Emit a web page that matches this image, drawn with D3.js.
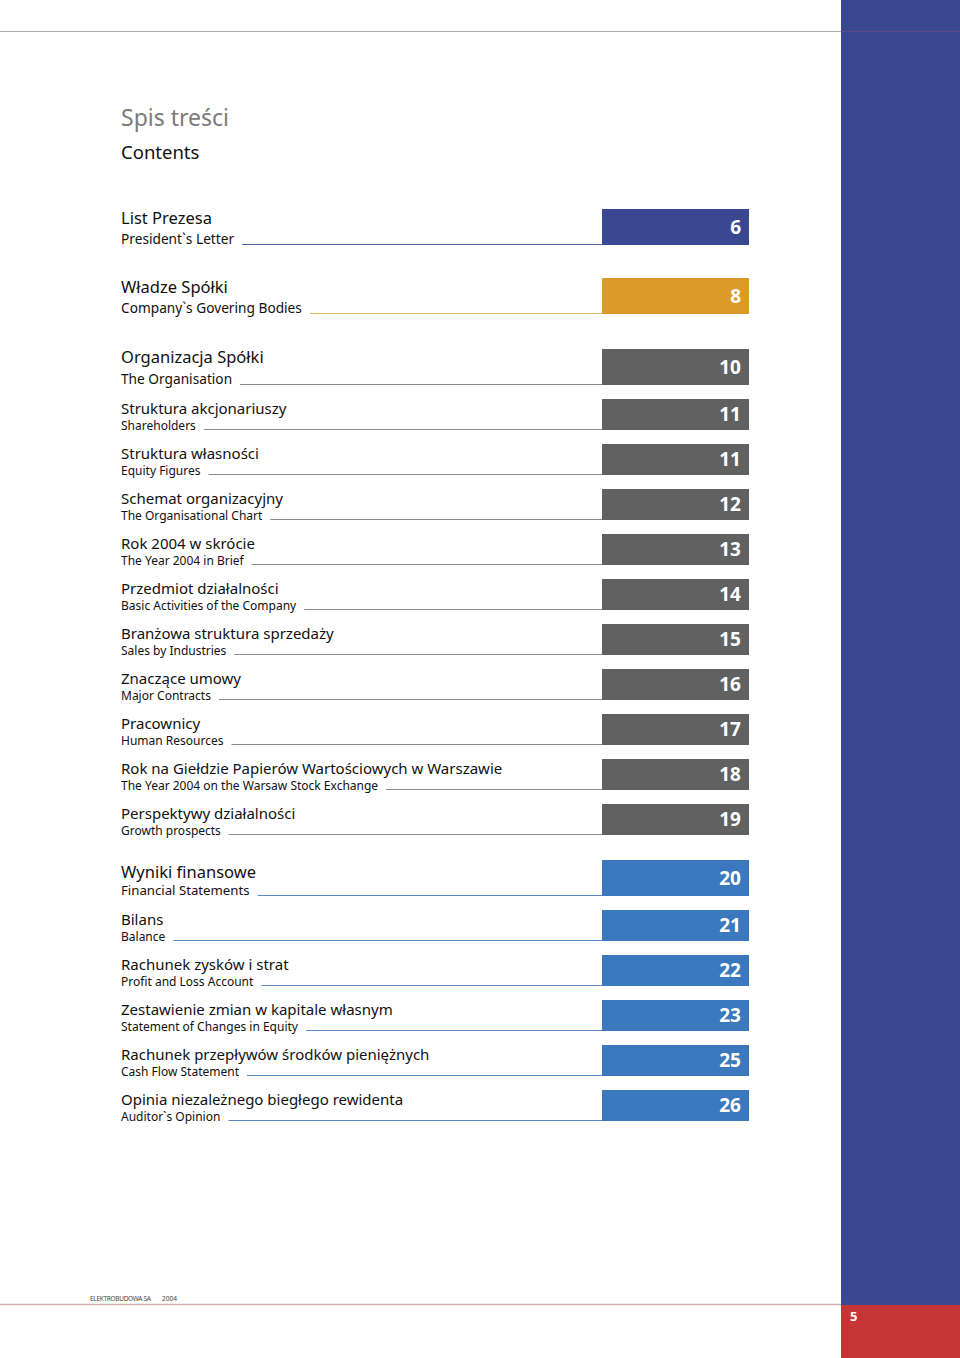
<!DOCTYPE html>
<html><head><meta charset="utf-8">
<script src="https://cdn.jsdelivr.net/npm/d3@7"></script>
<style>body{margin:0;background:#fff}svg{display:block}</style>
</head><body>
<svg id="c" width="960" height="1358"></svg>
<script>
const titlesPL = ["List Prezesa","Władze Spółki","Organizacja Spółki","Struktura akcjonariuszy","Struktura własności","Schemat organizacyjny","Rok 2004 w skrócie","Przedmiot działalności","Branżowa struktura sprzedaży","Znaczące umowy","Pracownicy","Rok na Giełdzie Papierów Wartościowych w Warszawie","Perspektywy działalności","Wyniki finansowe","Bilans","Rachunek zysków i strat","Zestawienie zmian w kapitale własnym","Rachunek przepływów środków pieniężnych","Opinia niezależnego biegłego rewidenta"];
const titlesEN = ["President`s Letter","Company`s Govering Bodies","The Organisation","Shareholders","Equity Figures","The Organisational Chart","The Year 2004 in Brief","Basic Activities of the Company","Sales by Industries","Major Contracts","Human Resources","The Year 2004 on the Warsaw Stock Exchange","Growth prospects","Financial Statements","Balance","Profit and Loss Account","Statement of Changes in Equity","Cash Flow Statement","Auditor`s Opinion"];
const pages = [6,8,10,11,11,12,13,14,15,16,17,18,19,20,21,22,23,25,26];
const groups = [0,1,2,2,2,2,2,2,2,2,2,2,2,3,3,3,3,3,3];
const heading = ["Spis treści","Contents"];
const footer = ["ELEKTROBUDOWA SA","2004"];
const pageNo = "5";

const barColors = ["#3a4892","#dc9a28","#616161","#3b78bd"];
const lineColors = ["#5566a4","#e2b466","#8c8c8c","#5b8bc6"];

const svg = d3.select("#c");
const FONT = "'Noto Sans', sans-serif";

// right band
svg.append("rect").attr("x",841).attr("y",0).attr("width",119).attr("height",1305).attr("fill","#394890");
svg.append("rect").attr("x",841).attr("y",1305).attr("width",119).attr("height",53).attr("fill","#c53536");
svg.append("line").attr("x1",0).attr("x2",841).attr("y1",31.5).attr("y2",31.5).attr("stroke","#b3adad").attr("stroke-width",1);
svg.append("line").attr("x1",841).attr("x2",960).attr("y1",31.5).attr("y2",31.5).attr("stroke","#7a4a7a").attr("stroke-width",1).attr("opacity",0.6);
svg.append("line").attr("x1",0).attr("x2",841).attr("y1",1304.5).attr("y2",1304.5).attr("stroke","#d5b3b3").attr("stroke-width",1.5);
svg.append("text").attr("x",850).attr("y",1321).attr("fill","#fff").attr("font-family",FONT).attr("font-weight","bold").attr("font-size",13).text(pageNo);

// footer
svg.append("text").attr("x",90).attr("y",1301).attr("fill","#444").attr("font-family",FONT).attr("font-size",6.5).attr("letter-spacing",-0.3).text(footer[0]);
svg.append("text").attr("x",162).attr("y",1301).attr("fill","#444").attr("font-family",FONT).attr("font-size",6.5).text(footer[1]);

// heading
svg.append("text").attr("x",121).attr("y",126).attr("fill","#7b7b7b").attr("font-family",FONT).attr("font-size",23).text(heading[0]);
svg.append("text").attr("x",121).attr("y",159).attr("fill","#111").attr("font-family",FONT).attr("font-size",18.5).text(heading[1]);

// layout
const groupGap = [0,24,26,16];
const rows = [];
let bottom = 245;
pages.forEach((p,i)=>{
  if(i>0){ bottom += 45; if(groups[i]!==groups[i-1]) bottom += groupGap[groups[i]]; }
  const lead = i===0 || groups[i]!==groups[i-1];
  rows.push({pl:titlesPL[i], en:titlesEN[i], page:p, g:groups[i], bottom, lead});
});

const x = d3.scaleLinear().domain([0,1]).range([602,749]);

const g = svg.selectAll("g.row").data(rows).join("g").attr("class","row");
g.append("rect")
  .attr("x",x(0)).attr("width",x(1)-x(0))
  .attr("y",d=>d.bottom-(d.lead?36:31)).attr("height",d=>d.lead?36:31)
  .attr("fill",d=>barColors[d.g]);
g.append("text")
  .attr("x",741).attr("y",d=>d.bottom-(d.lead?18:15.5)+6.5)
  .attr("text-anchor","end").attr("fill","#fff")
  .attr("font-family",FONT).attr("font-weight","bold").attr("font-size",19)
  .text(d=>d.page);
g.append("text").attr("class","pl")
  .attr("x",121).attr("y",d=>d.bottom-(d.lead? (d.g<2?21:(d.g===2?22:18)) :16))
  .attr("fill","#111").attr("font-family",FONT).attr("font-size",d=>d.lead?16.5:15)
  .text(d=>d.pl);
const en = g.append("text").attr("class","en")
  .attr("x",121).attr("y",d=>d.bottom-(d.lead?1:0.5))
  .attr("fill","#111").attr("font-family",FONT).attr("font-size",d=>d.lead?(d.g===3?13.2:13.7):12)
  .text(d=>d.en);
en.each(function(d){ d.enEnd = 121 + this.getComputedTextLength(); });
g.append("line")
  .attr("x1",d=>d.enEnd+8).attr("x2",x(0))
  .attr("y1",d=>d.bottom-0.5).attr("y2",d=>d.bottom-0.5)
  .attr("stroke",d=>lineColors[d.g]).attr("stroke-width",1);
</script>
</body></html>
